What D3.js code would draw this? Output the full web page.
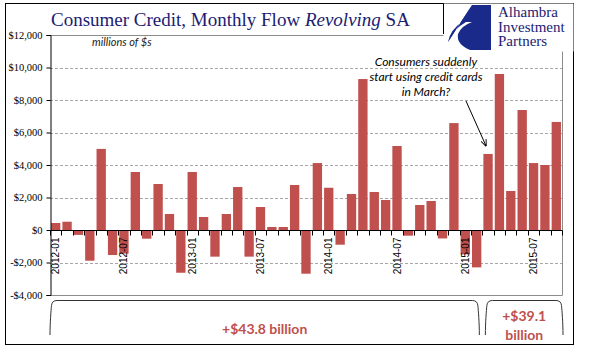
<!DOCTYPE html>
<html><head><meta charset="utf-8">
<script src="https://cdn.jsdelivr.net/npm/d3@7"></script>
<style>body{margin:0;background:#fff;}svg{display:block;}</style>
</head><body>
<svg id="c" width="593" height="358"></svg>
<script>
const months = [];
for (let y = 2012; y <= 2015; y++) for (let m = 1; m <= 12; m++) {
  if (y === 2015 && m > 9) break;
  months.push(y + "-" + String(m).padStart(2, "0"));
}
const values = [430, 510, -300, -1890, 4990, -1540, -1450, 3570, -535, 2830, 985, -2630,
  3570, 800, -1640, 985, 2645, -1640, 1415, 185, 185, 2770, -2690, 4120,
  2600, -905, 2215, 9290, 2340, 1845, 5170, -350, 1540, 1785, -520, 6580,
  -1500, -2300, 4680, 9600, 2400, 7385, 4120, 4000, 6650];
const tickLabels = ["2012-01","2012-07","2013-01","2013-07","2014-01","2014-07","2015-01","2015-07"];
const yTicks = [-4000,-2000,0,2000,4000,6000,8000,10000,12000];
const brackets = [
  {from: "2012-01", to: "2015-02", label: ["+$43.8 billion"]},
  {from: "2015-03", to: "2015-09", label: ["+$39.1", "billion"]}
];
const annotation = ["Consumers suddenly", "start using credit cards", "in March?"];
const annotatedMonth = "2015-03";

const svg = d3.select("#c");
const L = 50, R = 562, T = 35, B = 295;
const x = d3.scaleBand().domain(months).range([L, R]).paddingInner(0.18).paddingOuter(0.09);
const y = d3.scaleLinear().domain([-4000, 12000]).range([B, T]);
const red = "#c0504d", navy = "#1c1c72";

// outer frame
svg.append("rect").attr("x", 5.5).attr("y", 3.5).attr("width", 568).attr("height", 341)
  .attr("fill", "#fff").attr("stroke", "#000").attr("stroke-width", 1);

// grid
svg.append("g").selectAll("line").data(yTicks.filter(d => d !== 0 && d !== -4000 && d !== 12000)).join("line")
  .attr("x1", L).attr("x2", R).attr("y1", d => Math.round(y(d)) + 0.5).attr("y2", d => Math.round(y(d)) + 0.5)
  .attr("stroke", "#a6a6a6").attr("stroke-dasharray", "3,2").attr("stroke-width", 1);
// plot border (gray) top/right/bottom
svg.append("path").attr("d", `M${L},${Math.round(y(12000))+0.5}H${R+0.5}V${Math.round(y(-4000))+0.5}H${L}`)
  .attr("fill", "none").attr("stroke", "#8c8c8c");

// bars
svg.append("g").selectAll("rect").data(months).join("rect")
  .attr("x", d => x(d)).attr("width", x.bandwidth())
  .attr("y", (d, i) => y(Math.max(0, values[i])))
  .attr("height", (d, i) => Math.abs(y(values[i]) - y(0)))
  .attr("fill", red);

// y axis
const ya = svg.append("g").attr("transform", `translate(${L + 0.5},0)`)
  .call(d3.axisLeft(y).tickValues(yTicks).tickSize(4).tickFormat(d => (d < 0 ? "-$" : "$") + d3.format(",")(Math.abs(d))));
ya.select(".domain").attr("stroke", "#000");
ya.selectAll("text").attr("font-family", "Liberation Serif").attr("font-size", 10.5).attr("fill", "#000").attr("dx", -1);

// x axis at zero
const zy = Math.round(y(0)) + 0.5;
svg.append("line").attr("x1", L).attr("x2", R + 0.5).attr("y1", zy).attr("y2", zy).attr("stroke", "#000");
const bounds = months.map(m => x(m) - x.step() * x.paddingInner() / 2).concat([R]);
svg.append("g").selectAll("line").data(bounds).join("line")
  .attr("x1", d => Math.round(d) + 0.5).attr("x2", d => Math.round(d) + 0.5)
  .attr("y1", zy).attr("y2", zy + 5).attr("stroke", "#000");
svg.append("g").selectAll("text").data(tickLabels).join("text")
  .attr("transform", d => `translate(${x(d) + x.bandwidth() / 2 + 3.5},${zy + 7}) rotate(-90)`)
  .attr("text-anchor", "end").attr("font-family", "Liberation Sans").attr("font-size", 10)
  .attr("fill", "#000").text(d => d);

// title
const title = svg.append("text").attr("x", 51).attr("y", 26).attr("font-family", "Liberation Serif")
  .attr("font-size", 19).attr("fill", navy);
title.append("tspan").text("Consumer Credit, Monthly Flow ");
title.append("tspan").attr("font-style", "italic").text("Revolving");
title.append("tspan").text(" SA");

svg.append("text").attr("x", 92).attr("y", 46).attr("font-family", "Lato").attr("font-style", "italic")
  .attr("font-size", 11).attr("fill", "#222").text("millions of $s");

// logo
const lg = svg.append("g");
lg.append("rect").attr("x", 443.5).attr("y", 3.5).attr("width", 130).attr("height", 48).attr("fill", "#fff");
lg.append("line").attr("x1", 443.5).attr("x2", 443.5).attr("y1", 3.5).attr("y2", 34).attr("stroke", "#000");
lg.append("path").attr("d", "M472,5 L491,5 L491,50 L470,50 Q456,44 458,34 Q461,26 472,22 L466,22 Q452,30 448,42 Z")
  .attr("fill", "#1a2a8a");
lg.append("path").attr("d", "M472,5 L448,42 Q450,30 462,22 Z").attr("fill", "#1a2a8a");
lg.selectAll("text").data(["Alhambra", "Investment", "Partners"]).join("text")
  .attr("x", 498).attr("y", (d, i) => 17 + i * 14.5).attr("font-family", "Liberation Serif")
  .attr("font-size", 15).attr("fill", navy).text(d => d);

// annotation
svg.append("g").selectAll("text").data(annotation).join("text")
  .attr("x", 426).attr("y", (d, i) => 66 + i * 15).attr("text-anchor", "middle")
  .attr("font-family", "Lato").attr("font-style", "italic").attr("font-size", 12).attr("fill", "#000").text(d => d);
const ax = x(annotatedMonth) + x.bandwidth() / 2 - 2;
const ayv = y(values[months.indexOf(annotatedMonth)]) - 8;
svg.append("defs").append("marker").attr("id", "ah").attr("viewBox", "0 0 10 10").attr("refX", 9).attr("refY", 5)
  .attr("markerWidth", 7).attr("markerHeight", 7).attr("orient", "auto")
  .append("path").attr("d", "M0,1 L10,5 L0,9").attr("fill", "none").attr("stroke", "#000").attr("stroke-width", 1.3);
svg.append("line").attr("x1", 466).attr("y1", 101).attr("x2", ax).attr("y2", ayv)
  .attr("stroke", "#000").attr("stroke-width", 1).attr("marker-end", "url(#ah)");

// brackets
const bt = 300.5, bb = 335;
brackets.forEach((b, k) => {
  const x0 = k === 0 ? L : x(b.from) - x.step() * x.paddingInner() / 2 + 3;
  const x1 = k === 0 ? x(b.to) + x.bandwidth() + x.step() * x.paddingInner() / 2 - 3 : R + 1;
  svg.append("path").attr("d",
    `M${x0},${bb} C${x0},${bb-12} ${x0+1},${bt+10} ${x0+1.5},${bt+5} Q${x0+2},${bt} ${x0+7},${bt} H${x1-7} Q${x1-2},${bt} ${x1-1.5},${bt+5} C${x1-1},${bt+10} ${x1},${bb-12} ${x1},${bb}`)
    .attr("fill", "none").attr("stroke", "#333").attr("stroke-width", 1);
  const cx = (x0 + x1) / 2;
  const n = b.label.length;
  b.label.forEach((t, j) => {
    svg.append("text").attr("x", cx).attr("y", n === 1 ? 334 : 321 + j * 19).attr("text-anchor", "middle")
      .attr("font-family", "Lato").attr("font-weight", "bold").attr("font-size", 14).attr("fill", red).text(t);
  });
});
</script>
</body></html>
